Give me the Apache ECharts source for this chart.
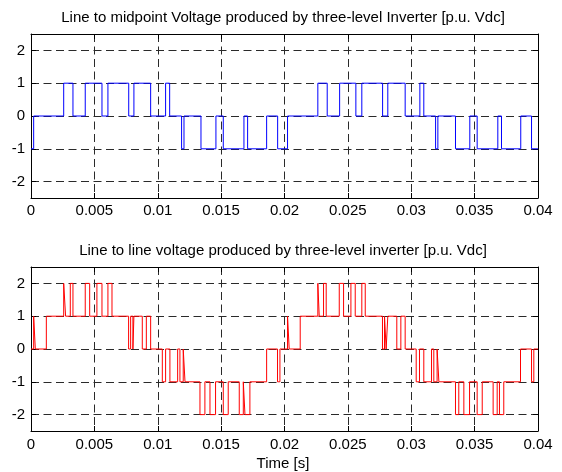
<!DOCTYPE html>
<html>
<head>
<meta charset="utf-8">
<script src="https://cdn.jsdelivr.net/npm/echarts@6/dist/echarts.min.js"></script>
<style>
  html, body { margin: 0; padding: 0; background: #ffffff; }
  #chart { width: 562px; height: 472px; }
</style>
</head>
<body>
<div id="chart"></div>
<script>
// Switching instants [s] and the level held from each instant on [p.u. Vdc]
const phaseTimes = [0, 0.00021, 0.00258, 0.00331, 0.00428, 0.00560, 0.00607, 0.00771, 0.00812, 0.00944,
  0.01062, 0.01094, 0.01188, 0.01207, 0.01341, 0.01459, 0.01517, 0.01680, 0.01709, 0.01859, 0.01946,
  0.02024, 0.02263, 0.02337, 0.02435, 0.02563, 0.02610, 0.02774, 0.02815, 0.02952,
  0.03068, 0.03099, 0.03192, 0.03210, 0.03349, 0.03462, 0.03520, 0.03683, 0.03712, 0.03864, 0.03949];
const phaseLevels = [-1, 0, 1, 0, 1, 0, 1, 0, 1, 0,
  1, 0, -1, 0, -1, 0, -1, 0, -1, 0, -1,
  0, 1, 0, 1, 0, 1, 0, 1, 0,
  1, 0, -1, 0, -1, 0, -1, 0, -1, 0, -1];

const lineTimes = [0, 0.00021, 0.00034, 0.00121, 0.00258, 0.00273, 0.00310, 0.00331, 0.00428, 0.00463,
  0.00520, 0.00560, 0.00607, 0.00639, 0.00770, 0.00786, 0.00804, 0.00812, 0.00878, 0.00910, 0.00944,
  0.01036, 0.01062, 0.01096, 0.01157, 0.01175, 0.01201, 0.01215, 0.01333, 0.01372, 0.01412, 0.01456,
  0.01517, 0.01556, 0.01643, 0.01675, 0.01688, 0.01727, 0.01859, 0.01945, 0.01964,
  0.02024, 0.02037, 0.02124, 0.02263, 0.02274, 0.02308, 0.02329, 0.02432, 0.02466,
  0.02524, 0.02558, 0.02610, 0.02637, 0.02773, 0.02789, 0.02802, 0.02815, 0.02886, 0.02918, 0.02952,
  0.03039, 0.03065, 0.03099, 0.03160, 0.03178, 0.03204, 0.03218, 0.03349, 0.03375, 0.03415, 0.03460,
  0.03520, 0.03560, 0.03646, 0.03678, 0.03696, 0.03730, 0.03862, 0.03949, 0.03967];
const lineLevels = [0, 1, 0, 1, 2, 1, 2, 1, 2, 1,
  2, 1, 2, 1, 0, 1, 0, 1, 0, 1, 0,
  -1, 0, -1, 0, -1, 0, -1, -2, -1, -2, -1,
  -2, -1, -2, -1, -2, -1, 0, -1, 0,
  1, 0, 1, 2, 1, 2, 1, 2, 1,
  2, 1, 2, 1, 0, 1, 0, 1, 0, 1, 0,
  -1, 0, -1, 0, -1, 0, -1, -2, -1, -2, -1,
  -2, -1, -2, -1, -2, -1, 0, -1, 0];

const tEnd = 0.04;
const xTickValues = [0, 0.005, 0.01, 0.015, 0.02, 0.025, 0.03, 0.035, 0.04];
const xTickLabels = ['0', '0.005', '0.01', '0.015', '0.02', '0.025', '0.03', '0.035', '0.04'];
const yTickValues = [-2, -1, 0, 1, 2];
const yTickLabels = ['-2', '-1', '0', '1', '2'];

const topTitle = 'Line to midpoint Voltage produced by three-level Inverter [p.u. Vdc]';
const bottomTitle = 'Line to line voltage produced by three-level inverter [p.u. Vdc]';
const xName = 'Time [s]';

// Turn (instant, level) lists into a staircase polyline
function staircase(times, levels) {
  const pts = [];
  for (let i = 0; i < times.length; i++) {
    if (i > 0) pts.push([times[i], levels[i - 1]]);
    pts.push([times[i], levels[i]]);
  }
  pts.push([tEnd, levels[levels.length - 1]]);
  return pts;
}

const FONT = 'Liberation Sans, Arial, Helvetica, sans-serif';
const gridDash = { color: '#2a2a2a', width: 1, type: [8, 4.5] };

function xAxes(gi, labelMargin) {
  const base = {
    type: 'value', gridIndex: gi, min: 0, max: tEnd, interval: 0.005,
    axisLine: { show: true, onZero: false, lineStyle: { color: '#000', width: 1 } },
    axisTick: { show: true, inside: true, length: 5, lineStyle: { color: '#000' } }
  };
  return [
    Object.assign({}, base, {
      position: 'bottom',
      axisLabel: {
        show: true, margin: labelMargin, color: '#000', fontFamily: FONT, fontSize: 15,
        formatter: v => { const k = xTickValues.findIndex(t => Math.abs(t - v) < 1e-9); return k >= 0 ? xTickLabels[k] : ''; }
      },
      splitLine: { show: true, lineStyle: gridDash }
    }),
    Object.assign({}, base, {
      position: 'top', axisLabel: { show: false }, splitLine: { show: false }
    })
  ];
}

function yAxes(gi) {
  const base = {
    type: 'value', gridIndex: gi, min: -2.5, max: 2.5,
    axisLine: { show: true, onZero: false, lineStyle: { color: '#000', width: 1 } },
    axisTick: { show: true, inside: true, length: 5, customValues: yTickValues, lineStyle: { color: '#000' } }
  };
  return [
    Object.assign({}, base, {
      position: 'left',
      axisLabel: {
        show: true, margin: 6, color: '#000', fontFamily: FONT, fontSize: 15,
        customValues: yTickValues,
        formatter: v => { const k = yTickValues.indexOf(v); return k >= 0 ? yTickLabels[k] : ''; }
      },
      splitLine: { show: true, lineStyle: gridDash }
    }),
    Object.assign({}, base, {
      position: 'right', axisLabel: { show: false }, splitLine: { show: false }
    })
  ];
}

const chart = echarts.init(document.getElementById('chart'), null, { renderer: 'canvas' });

chart.setOption({
  animation: false,
  backgroundColor: '#ffffff',
  grid: [
    { left: 31, right: 24, top: 34, height: 164 },
    { left: 31, right: 24, top: 267, height: 164 }
  ],
  xAxis: [].concat(xAxes(0, 5), xAxes(1, 6)),
  yAxis: [].concat(yAxes(0), yAxes(1)),
  series: [
    {
      type: 'line', xAxisIndex: 0, yAxisIndex: 0, data: staircase(phaseTimes, phaseLevels),
      showSymbol: false, symbol: 'none', lineStyle: { color: '#0000ff', width: 1 }, z: 5
    },
    {
      type: 'line', xAxisIndex: 2, yAxisIndex: 2, data: staircase(lineTimes, lineLevels),
      showSymbol: false, symbol: 'none', lineStyle: { color: '#ff0000', width: 1 }, z: 5
    }
  ],
  graphic: [
    { type: 'text', x: 283, y: 17.5, style: { text: topTitle, fill: '#000', font: '15px ' + FONT, textAlign: 'center', textVerticalAlign: 'middle' } },
    { type: 'text', x: 283, y: 250.5, style: { text: bottomTitle, fill: '#000', font: '15px ' + FONT, textAlign: 'center', textVerticalAlign: 'middle' } },
    { type: 'text', x: 283, y: 463.5, style: { text: xName, fill: '#000', font: '15px ' + FONT, textAlign: 'center', textVerticalAlign: 'middle' } }
  ]
});
</script>
</body>
</html>
